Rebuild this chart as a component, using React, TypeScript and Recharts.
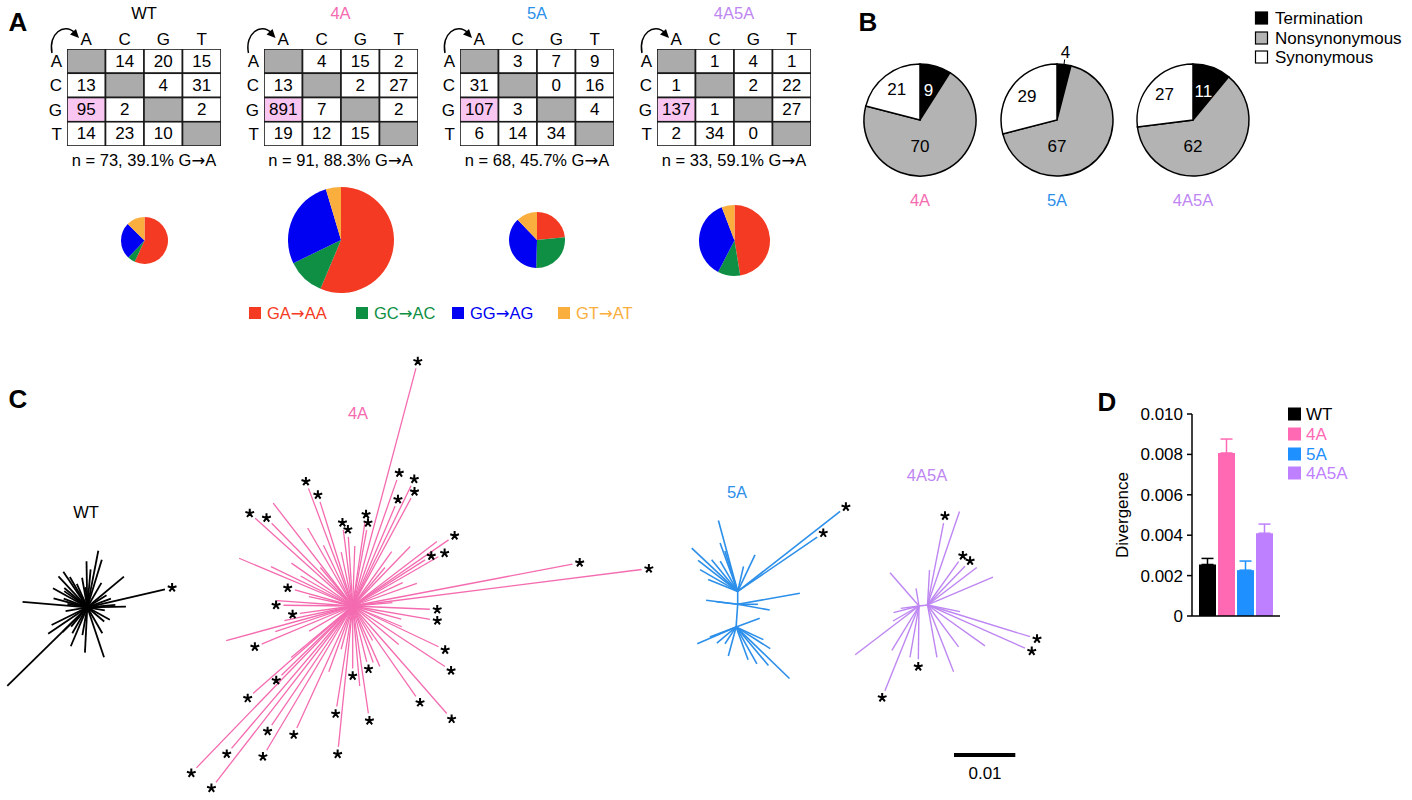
import React from 'react';
import {
  ScatterChart,
  Scatter,
  XAxis,
  YAxis,
  ReferenceLine,
  PieChart,
  Pie,
  Cell,
  BarChart,
  Bar,
  ErrorBar,
} from 'recharts';

const FONT = '"Liberation Sans", Arial, Helvetica, sans-serif';

// ---------- data ----------
const bases = ['A', 'C', 'G', 'T'];
const genotypes = ['WT', '4A', '5A', '4A5A'];
const genotypeColors = ['#000000', '#FF69B4', '#1E90FF', '#BF80FF'];

// panel A: substitution matrices (row = from, column = to)
const wtMatrix = [[null, 14, 20, 15], [13, null, 4, 31], [95, 2, null, 2], [14, 23, 10, null]];
const a4Matrix = [[null, 4, 15, 2], [13, null, 2, 27], [891, 7, null, 2], [19, 12, 15, null]];
const a5Matrix = [[null, 3, 7, 9], [31, null, 0, 16], [107, 3, null, 4], [6, 14, 34, null]];
const a4a5Matrix = [[null, 1, 4, 1], [1, null, 2, 22], [137, 1, null, 27], [2, 34, 0, null]];
const matrices = [wtMatrix, a4Matrix, a5Matrix, a4a5Matrix];
const tableN = [73, 91, 68, 33];
const tableGA = [39.1, 88.3, 45.7, 59.1];

// panel A: G->A context pies
const contextLabels = ['GA\u2192AA', 'GC\u2192AC', 'GG\u2192AG', 'GT\u2192AT'];
const contextColors = ['#F43A22', '#0E8F44', '#0000F2', '#F9AE3E'];
const wtContext = [54, 5, 24, 12];
const a4Context = [502, 102, 246, 41];
const a5Context = [25, 29, 40, 13];
const a4a5Context = [65, 14, 50, 8];
const contexts = [wtContext, a4Context, a5Context, a4a5Context];

// panel B
const effectLabels = ['Termination', 'Nonsynonymous', 'Synonymous'];
const effectColors = ['#000000', '#B3B3B3', '#FFFFFF'];
const a4Effect = [9, 70, 21];
const a5Effect = [4, 67, 29];
const a4a5Effect = [11, 62, 27];
const effects = [a4Effect, a5Effect, a4a5Effect];

// panel D
const divergence = [0.00255, 0.00807, 0.00227, 0.0041];
const divergenceSem = [0.0003, 0.00069, 0.00045, 0.00045];
const divTicks = [0, 0.002, 0.004, 0.006, 0.008, 0.01];

// panel C: trees. nodes = [angle, length] from root; branches = [node, angle, length, star]
// lengths in 0.001 substitutions/site
const wtNodes = [[0, 0]];
const wtBranches = [
  [0, 224.5, 18.3, 0], [0, 13, 13.0, 1], [0, 175.3, 10.6, 0], [0, 79, 9.4, 0], [0, 73, 8.1, 0],
  [0, 40, 7.8, 0], [0, -71.5, 8.6, 0], [0, -93, 7.4, 0], [0, -113, 6.9, 0], [0, 1, 6.3, 0],
  [0, 91, 7.5, 0], [0, 124, 7.0, 0], [0, 133, 6.9, 0], [0, 151, 6.4, 0], [0, 165, 5.7, 0],
  [0, -146, 7.7, 0], [0, -153.6, 6.5, 0], [0, 114, 4.2, 0], [0, -29, 4.2, 0], [0, 32, 3.7, 0],
  [0, 140, 4.9, 0], [0, 145, 4.6, 0], [0, 160, 4.1, 0], [0, -120, 4.9, 0], [0, -130, 4.1, 0],
  [0, -100, 4.6, 0], [0, -60, 4.9, 0], [0, -40, 3.6, 0], [0, 20, 4.1, 0], [0, 60, 4.6, 0],
  [0, 100, 4.9, 0], [0, 170, 3.3, 0], [0, -170, 3.6, 0], [0, 5, 4.6, 0], [0, -10, 2.9, 0],
  [0, 120, 5.7, 0], [0, 85, 6.2, 0], [0, 95, 3.3, 0], [0, -135, 5.7, 0],
];
const a4Nodes = [[0, 0]];
const a4Branches = [
  [0, 75.1, 40.1, 1], [0, 70.7, 21.8, 1], [0, 64.1, 21.8, 1], [0, 67, 17.7, 1], [0, 61.6, 20.0, 1],
  [0, 81.7, 13.9, 1], [0, 79.6, 12.6, 1], [0, 97, 12.5, 1], [0, 93.6, 11.3, 1], [0, 110.6, 20.5, 1],
  [0, 107.4, 17.8, 1], [0, 127.7, 21.2, 0], [0, 138, 21.4, 1], [0, 134.4, 18.9, 1], [0, 157.2, 20.1, 0],
  [0, 154.3, 14.8, 0], [0, 164.5, 9.8, 1], [0, 176, 12.4, 0], [0, 179.4, 11.3, 1], [0, -172, 8.7, 1],
  [0, -164.7, 21.4, 0], [0, -157.3, 16.1, 1], [0, -161.7, 13.3, 0], [0, -138.7, 21.6, 1], [0, -135.8, 16.2, 1],
  [0, -134, 36.7, 1], [0, -127.8, 36.4, 1], [0, -130.4, 30.5, 1], [0, -124.2, 23.5, 1], [0, -120.8, 27.4, 1],
  [0, -114.6, 21.9, 1], [0, -95.8, 23.1, 1], [0, -99, 16.6, 1], [0, -90, 10.2, 1], [0, -81.7, 17.7, 1],
  [0, -75.9, 9.4, 1], [0, -65.8, 10.8, 0], [0, -55.1, 18.0, 1], [0, -48.8, 23.3, 1], [0, -33.3, 18.0, 1],
  [0, -25.4, 15.5, 1], [0, -9.8, 12.8, 1], [0, -2.4, 12.6, 1], [0, 10.8, 36.5, 1], [0, 7.2, 47.5, 1],
  [0, 34.6, 19.0, 1], [0, 29.9, 16.1, 1], [0, 32.5, 14.0, 1], [0, 37.4, 17.3, 0], [0, 46, 13.5, 0],
  [0, 54.3, 10.9, 0], [0, 19.5, 11.1, 0], [0, -22.9, 8.7, 0], [0, 115.7, 11.0, 0], [0, 120, 14.7, 0],
  [0, 145, 12.2, 0], [0, 150, 9.8, 0], [0, 168, 7.3, 0], [0, -168, 11.4, 0], [0, -150, 8.2, 0],
  [0, -140, 13.1, 0], [0, -110, 11.4, 0], [0, -85, 13.1, 0], [0, -70, 9.8, 0], [0, -40, 9.8, 0],
  [0, -15, 8.2, 0], [0, 5, 6.5, 0], [0, 25, 9.0, 0], [0, 50, 8.2, 0], [0, 88, 9.8, 0],
  [0, 102, 9.0, 0], [0, 130, 8.2, 0], [0, -105, 7.3, 0], [0, -60, 6.5, 0],
];
const a5Nodes = [[0, 0], [90, 2.1], [-94, 3.7]];
const a5Branches = [
  [1, 38, 21.2, 1], [1, 34.3, 15.7, 1], [1, 105.2, 12.0, 0], [1, 136.7, 10.3, 0], [1, 64.7, 6.6, 0],
  [1, 150, 7.1, 0], [1, 158, 5.2, 0], [1, 129.4, 6.7, 0], [1, 110, 8.4, 0], [1, 107.6, 6.9, 0],
  [1, 77, 4.2, 0], [1, 120, 5.7, 0], [1, 142, 8.2, 0],
  [0, 10, 10.3, 0], [0, 172.8, 5.2, 0], [0, 173, 3.5, 0], [0, -10, 5.3, 0], [0, 0, 3.3, 0],
  [2, -156.7, 6.9, 0], [2, -44, 12.1, 0], [2, -32.5, 6.6, 0], [2, -60.6, 6.9, 0], [2, -123.4, 3.3, 0],
  [2, -159, 4.6, 0], [2, -50, 8.2, 0], [2, -70, 5.7, 0], [2, -140, 4.1, 0], [2, -25, 4.9, 0],
  [2, 20, 4.1, 0], [2, -105, 4.9, 0],
];
const a4a5Nodes = [[0, 0], [6.9, 1.4]];
const a4a5Branches = [
  [1, 71.1, 16.1, 0], [1, 78.9, 13.6, 1], [1, 54.4, 8.7, 1], [1, 46, 8.8, 1], [1, 37.3, 10.1, 0],
  [1, 23, 11.6, 0], [1, 86.7, 5.7, 0], [1, -17.2, 17.5, 1], [1, -23.9, 17.4, 1], [1, -11.6, 5.4, 0],
  [1, -35.4, 11.5, 0], [1, -53.4, 8.5, 0], [1, -68.7, 11.7, 0], [1, -79.8, 8.7, 0],
  [0, 131, 7.2, 0], [0, 99.6, 2.9, 0], [0, -165.4, 4.3, 0], [0, -172.7, 3.0, 0], [0, -142.6, 13.1, 0],
  [0, -121.4, 8.5, 0], [0, -100, 8.5, 0], [0, -90.7, 8.7, 1], [0, -111.9, 14.9, 1], [0, -150, 4.9, 0],
];
const scaleBarValue = 10; // 0.01 subs/site

// ---------- layout / style ----------
const TABLE_LEFT = [67, 263.5, 460, 657];
const TABLE_TOP = 49;
const TABLE_W = 154;
const TABLE_H = 97;
const CELL_W = TABLE_W / 4;
const CELL_H = TABLE_H / 4;
const Y_AX_W = 20;
const X_AX_H = 22;
const PIE_A_R = [23.5, 53, 28, 35.5];
const PIE_A_Y = 240;
const PIE_B_X = [920, 1057, 1193];
const PIE_B_Y = 120;
const PIE_B_R = 56;

const C_LEFT = 0;
const C_TOP = 340;
const C_W = 1080;
const C_H = 460;
const PX = 6.13; // px per 0.001 subs/site
const treeLayout = [
  { root: [87.3, 607.3], color: '#000000', width: 1.8, nodes: wtNodes, branches: wtBranches },
  { root: [352.7, 606], color: '#F46BB0', width: 1.3, nodes: a4Nodes, branches: a4Branches },
  { root: [737.7, 604.3], color: '#2C8FEA', width: 1.6, nodes: a5Nodes, branches: a5Branches },
  { root: [919, 606], color: '#BE86F2', width: 1.4, nodes: a4a5Nodes, branches: a4a5Branches },
];
const scaleBarPos = [954, 755];

const RAD = Math.PI / 180;
const polar = (p: { x: number; y: number }, a: number, l: number) => ({
  x: p.x + l * Math.cos(a * RAD),
  y: p.y + l * Math.sin(a * RAD),
});

const segments: { a: any; b: any; color: string; width: number }[] = [];
const stars: { x: number; y: number }[] = [];
treeLayout.forEach((t) => {
  const root = { x: t.root[0] / PX, y: (C_TOP + C_H - t.root[1]) / PX };
  const nodePts = t.nodes.map(([a, l]) => polar(root, a, l));
  nodePts.slice(1).forEach((p) => segments.push({ a: nodePts[0], b: p, color: t.color, width: t.width }));
  t.branches.forEach(([n, a, l, s]) => {
    segments.push({ a: nodePts[n], b: polar(nodePts[n], a, l), color: t.color, width: t.width });
    if (s) stars.push(polar(nodePts[n], a, l + 1.2));
  });
});
const sbStart = { x: scaleBarPos[0] / PX, y: (C_TOP + C_H - scaleBarPos[1]) / PX };

// text with a wider arrow glyph
const withArrow = (s: string) =>
  s.split('\u2192').flatMap((part, k) =>
    k === 0
      ? [part]
      : [
          <tspan key={k} fontFamily='"DejaVu Sans", sans-serif'>
            {'\u2192'}
          </tspan>,
          part,
        ],
  );

// ---------- shapes ----------
const cellShape = (props: any) => {
  const { cx, cy, payload } = props;
  const fill = payload.value == null ? '#ABABAB' : payload.hl ? '#F9C6F1' : '#FFFFFF';
  return (
    <g>
      <rect x={cx - CELL_W / 2} y={cy - CELL_H / 2} width={CELL_W} height={CELL_H} fill={fill} stroke="#1a1a1a" strokeWidth={1.6} />
      {payload.value != null && (
        <text x={cx} y={cy} textAnchor="middle" dominantBaseline="central" fontSize={17} fill="#000">
          {payload.value}
        </text>
      )}
    </g>
  );
};

const starShape = (props: any) => {
  const { cx, cy } = props;
  const d = [0, 1, 2, 3, 4]
    .map((k) => {
      const a = (-90 + 72 * k) * RAD;
      return `M${cx},${cy}L${cx + 4.6 * Math.cos(a)},${cy + 4.6 * Math.sin(a)}`;
    })
    .join('');
  return <path d={d} stroke="#000" strokeWidth={2} fill="none" />;
};

const effectLabel = (p: any) => {
  const { cx, cy, midAngle, outerRadius, value, index } = p;
  const dir = (r: number) => ({
    x: cx + r * Math.cos(-midAngle * RAD),
    y: cy + r * Math.sin(-midAngle * RAD),
  });
  if (index === 1) {
    return (
      <text x={cx} y={cy + outerRadius * 0.48} textAnchor="middle" dominantBaseline="central" fontSize={17} fill="#000">
        {value}
      </text>
    );
  }
  if (value < 6) {
    const a = dir(outerRadius);
    const b = dir(outerRadius + 5);
    const t = dir(outerRadius + 12);
    return (
      <g>
        <line x1={a.x} y1={a.y} x2={b.x} y2={b.y} stroke="#000" strokeWidth={1} />
        <text x={t.x} y={t.y} textAnchor="middle" dominantBaseline="central" fontSize={17} fill="#000">
          {value}
        </text>
      </g>
    );
  }
  const pt = dir(outerRadius * (index === 0 ? 0.55 : 0.68));
  return (
    <text x={pt.x} y={pt.y} textAnchor="middle" dominantBaseline="central" fontSize={17} fill={index === 0 ? '#fff' : '#000'}>
      {value}
    </text>
  );
};

const abs = (left: number, top: number): React.CSSProperties => ({ position: 'absolute', left, top });

function SubstitutionTable({ i }: { i: number }) {
  const cells = matrices[i].flatMap((row, r) =>
    row.map((v, c) => ({ col: c, row: r, value: v, hl: r === 2 && c === 0 })),
  );
  return (
    <div style={abs(TABLE_LEFT[i] - Y_AX_W, TABLE_TOP - X_AX_H)}>
      <ScatterChart width={Y_AX_W + TABLE_W + 3} height={X_AX_H + TABLE_H + 3} margin={{ top: 0, right: 3, bottom: 3, left: 0 }}>
        <XAxis
          type="number"
          dataKey="col"
          orientation="top"
          domain={[-0.5, 3.5]}
          ticks={[0, 1, 2, 3]}
          interval={0}
          tickFormatter={(v) => bases[v]}
          axisLine={false}
          tickLine={false}
          tickSize={2}
          tickMargin={2}
          height={X_AX_H}
          tick={{ fontSize: 17, fill: '#000' }}
          allowDataOverflow
        />
        <YAxis
          type="number"
          dataKey="row"
          reversed
          domain={[-0.5, 3.5]}
          ticks={[0, 1, 2, 3]}
          interval={0}
          tickFormatter={(v) => bases[v]}
          axisLine={false}
          tickLine={false}
          tickSize={2}
          tickMargin={3}
          width={Y_AX_W}
          tick={{ fontSize: 17, fill: '#000' }}
          allowDataOverflow
        />
        <Scatter data={cells} shape={cellShape} isAnimationActive={false} />
      </ScatterChart>
    </div>
  );
}

function ContextPie({ i }: { i: number }) {
  const r = PIE_A_R[i];
  const size = Math.ceil(r * 2 + 4);
  const data = contexts[i].map((v, k) => ({ name: contextLabels[k], value: v }));
  return (
    <div style={abs(TABLE_LEFT[i] + TABLE_W / 2 - size / 2, PIE_A_Y - size / 2)}>
      <PieChart width={size} height={size} margin={{ top: 0, right: 0, bottom: 0, left: 0 }}>
        <Pie data={data} dataKey="value" nameKey="name" cx="50%" cy="50%" outerRadius={r} startAngle={90} endAngle={-270} stroke="none" isAnimationActive={false}>
          {data.map((d, k) => (
            <Cell key={d.name} fill={contextColors[k]} />
          ))}
        </Pie>
      </PieChart>
    </div>
  );
}

function EffectPie({ i }: { i: number }) {
  const size = 170;
  const data = effects[i].map((v, k) => ({ name: effectLabels[k], value: v }));
  return (
    <div style={abs(PIE_B_X[i] - size / 2, PIE_B_Y - size / 2)}>
      <PieChart width={size} height={size} margin={{ top: 0, right: 0, bottom: 0, left: 0 }}>
        <Pie
          data={data}
          dataKey="value"
          nameKey="name"
          cx="50%"
          cy="50%"
          outerRadius={PIE_B_R}
          startAngle={90}
          endAngle={-270}
          stroke="#000"
          strokeWidth={1.5}
          label={effectLabel}
          labelLine={false}
          isAnimationActive={false}
        >
          {data.map((d, k) => (
            <Cell key={d.name} fill={effectColors[k]} />
          ))}
        </Pie>
      </PieChart>
    </div>
  );
}

function TreePanel() {
  return (
    <div style={abs(C_LEFT, C_TOP)}>
      <ScatterChart width={C_W} height={C_H} margin={{ top: 0, right: 0, bottom: 0, left: 0 }}>
        <XAxis type="number" dataKey="x" domain={[0, C_W / PX]} hide allowDataOverflow />
        <YAxis type="number" dataKey="y" domain={[0, C_H / PX]} hide allowDataOverflow />
        {segments.map((s, k) => (
          <ReferenceLine key={k} segment={[s.a, s.b]} stroke={s.color} strokeWidth={s.width} ifOverflow="visible" />
        ))}
        <ReferenceLine
          segment={[sbStart, { x: sbStart.x + scaleBarValue, y: sbStart.y }]}
          stroke="#000"
          strokeWidth={4}
          ifOverflow="visible"
        />
        <Scatter data={stars} shape={starShape} isAnimationActive={false} />
      </ScatterChart>
    </div>
  );
}

const divKeys = ['wt', 'a4', 'a5', 'a4a5'];
const divRow: Record<string, any> = { name: 'Divergence' };
divKeys.forEach((k, i) => {
  divRow[k] = divergence[i];
  divRow[k + 'Err'] = [0, divergenceSem[i]];
});

function DivergenceChart() {
  return (
    <div style={abs(1112, 404)}>
      <BarChart width={170} height={222} data={[divRow]} margin={{ top: 10, right: 2, bottom: 5, left: 0 }} barSize={17} barGap={2}>
        <XAxis dataKey="name" tick={false} tickLine={false} axisLine={{ stroke: '#000', strokeWidth: 1.5 }} height={5} />
        <YAxis
          type="number"
          domain={[0, 0.01]}
          ticks={divTicks}
          interval={0}
          tickFormatter={(v) => (v === 0 ? '0' : v.toFixed(3))}
          width={80}
          tickSize={5}
          tickMargin={4}
          axisLine={{ stroke: '#000', strokeWidth: 1.5 }}
          tickLine={{ stroke: '#000', strokeWidth: 1.5 }}
          tick={{ fontSize: 17, fill: '#000' }}
          label={{ value: 'Divergence', angle: -90, position: 'insideLeft', offset: 10, style: { textAnchor: 'middle', fontSize: 17, fill: '#000' } }}
        />
        {divKeys.map((k, i) => (
          <Bar key={k} dataKey={k} fill={genotypeColors[i]} isAnimationActive={false}>
            <ErrorBar dataKey={k + 'Err'} width={6} stroke={genotypeColors[i]} strokeWidth={1.5} direction="y" />
          </Bar>
        ))}
      </BarChart>
    </div>
  );
}

function Arrow({ x }: { x: number }) {
  return (
    <g>
      <path d={`M${x - 15},53 C${x - 19},34 ${x - 3},22 ${x + 8},33`} fill="none" stroke="#000" strokeWidth={1.5} />
      <path d={`M${x + 12},38 L${x + 3},34.5 L${x + 9},29 Z`} fill="#000" />
    </g>
  );
}

export default function App() {
  const txt = (x: number, y: number, s: string, color = '#000', size = 17, extra: any = {}) => (
    <text x={x} y={y} fill={color} fontSize={size} textAnchor="middle" dominantBaseline="central" {...extra}>
      {withArrow(s)}
    </text>
  );
  const titleColors = ['#000', '#F46BB0', '#2C8FEA', '#BE86F2'];
  return (
    <div style={{ position: 'absolute', left: 0, top: 0, width: 1412, height: 800, background: '#fff', fontFamily: FONT }}>
      {genotypes.map((g, i) => (
        <SubstitutionTable key={g} i={i} />
      ))}
      {genotypes.map((g, i) => (
        <ContextPie key={g} i={i} />
      ))}
      {effects.map((_, i) => (
        <EffectPie key={i} i={i} />
      ))}
      <TreePanel />
      <DivergenceChart />
      <svg width={1412} height={800} style={{ position: 'absolute', left: 0, top: 0, pointerEvents: 'none', fontFamily: FONT }}>
        {/* panel letters */}
        {txt(18, 22, 'A', '#000', 26, { fontWeight: 'bold' })}
        {txt(868, 22, 'B', '#000', 26, { fontWeight: 'bold' })}
        {txt(18, 399, 'C', '#000', 26, { fontWeight: 'bold' })}
        {txt(1107, 402, 'D', '#000', 26, { fontWeight: 'bold' })}
        {/* panel A titles, arrows and footers */}
        {genotypes.map((g, i) => (
          <g key={g}>
            {txt(TABLE_LEFT[i] + TABLE_W / 2, 13, g, titleColors[i], 16.5)}
            <Arrow x={TABLE_LEFT[i]} />
            {txt(TABLE_LEFT[i] + TABLE_W / 2, 160, `n = ${tableN[i]}, ${tableGA[i]}% G\u2192A`, '#000', 16.5)}
          </g>
        ))}
        {/* panel A legend */}
        {contextLabels.map((l, k) => {
          const sx = [249, 356, 452, 558][k];
          return (
            <g key={l}>
              <rect x={sx} y={307} width={12} height={12} fill={contextColors[k]} />
              {txt(sx + 18, 313, l, contextColors[k], 16.5, { textAnchor: 'start' })}
            </g>
          );
        })}
        {/* panel B legend and labels */}
        {effectLabels.map((l, k) => (
          <g key={l}>
            <rect x={1255.5} y={[18, 38, 57][k] - 6} width={12} height={12} fill={effectColors[k]} stroke="#000" strokeWidth={1.2} />
            {txt(1275, [18, 38, 57][k], l, '#000', 17, { textAnchor: 'start' })}
          </g>
        ))}
        {genotypes.slice(1).map((g, i) => (
          <g key={g}>{txt(PIE_B_X[i], 200, g, titleColors[i + 1], 16.5)}</g>
        ))}
        {/* panel C labels */}
        {txt(86, 512, 'WT', '#000', 16.5)}
        {txt(358, 413, '4A', titleColors[1], 16.5)}
        {txt(737, 492, '5A', titleColors[2], 16.5)}
        {txt(927, 475, '4A5A', titleColors[3], 16.5)}
        {txt(985, 773, '0.01', '#000', 17)}
        {/* panel D legend */}
        {genotypes.map((g, i) => (
          <g key={g}>
            <rect x={1288} y={[414, 434, 454, 473][i] - 6.5} width={13} height={13} fill={genotypeColors[i]} />
            {txt(1306, [414, 434, 454, 473][i], g, genotypeColors[i], 17, { textAnchor: 'start' })}
          </g>
        ))}
      </svg>
    </div>
  );
}
